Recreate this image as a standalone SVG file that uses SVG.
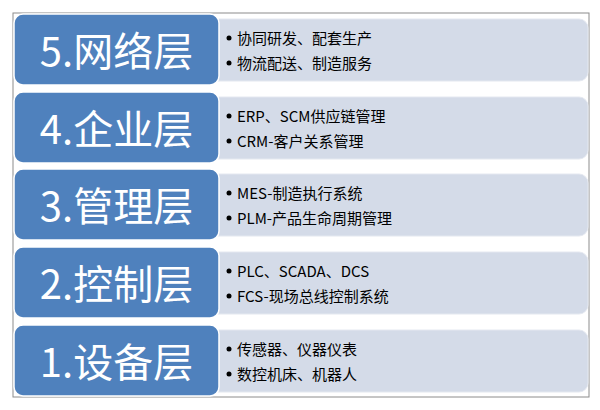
<svg xmlns="http://www.w3.org/2000/svg" width="600" height="410" viewBox="0 0 600 410">
<style>
.frame{fill:#ffffff;stroke:#8c8c8c;stroke-width:1}
.title{fill:#4f81bd;stroke:#ffffff;stroke-width:1.5}
.panel{fill:#d4dbe8;stroke:#e4e8f0;stroke-width:1}
.big{font-family:"Noto Sans CJK SC","Noto Sans",sans-serif;font-size:40px;fill:#ffffff;text-anchor:middle;dominant-baseline:central}
.item{font-family:"Noto Sans CJK SC","Noto Sans",sans-serif;font-size:15px;fill:#000000;dominant-baseline:central}
.dot{fill:#000000}
</style>
<rect class="frame" x="13" y="13" width="576" height="384"/>
<g id="layer5">
<rect class="panel" x="200" y="19" width="388" height="62" rx="9"/>
<rect class="title" x="14" y="14" width="205" height="71" rx="9"/>
<text class="big" x="116.5" y="49">5.网络层</text>
<circle class="dot" cx="229" cy="38" r="2.5"/><text class="item" x="237" y="37">协同研发、配套生产</text>
<circle class="dot" cx="229" cy="63" r="2.5"/><text class="item" x="237" y="62">物流配送、制造服务</text>
</g>
<g id="layer4">
<rect class="panel" x="200" y="97" width="388" height="62" rx="9"/>
<rect class="title" x="14" y="92" width="205" height="71" rx="9"/>
<text class="big" x="116.5" y="127">4.企业层</text>
<circle class="dot" cx="229" cy="116" r="2.5"/><text class="item" x="237" y="115">ERP、SCM供应链管理</text>
<circle class="dot" cx="229" cy="141" r="2.5"/><text class="item" x="237" y="140">CRM-客户关系管理</text>
</g>
<g id="layer3">
<rect class="panel" x="200" y="174" width="388" height="62" rx="9"/>
<rect class="title" x="14" y="169" width="205" height="71" rx="9"/>
<text class="big" x="116.5" y="204">3.管理层</text>
<circle class="dot" cx="229" cy="193" r="2.5"/><text class="item" x="237" y="192">MES-制造执行系统</text>
<circle class="dot" cx="229" cy="218" r="2.5"/><text class="item" x="237" y="217">PLM-产品生命周期管理</text>
</g>
<g id="layer2">
<rect class="panel" x="200" y="252" width="388" height="62" rx="9"/>
<rect class="title" x="14" y="247" width="205" height="71" rx="9"/>
<text class="big" x="116.5" y="282">2.控制层</text>
<circle class="dot" cx="229" cy="271" r="2.5"/><text class="item" x="237" y="270">PLC、SCADA、DCS</text>
<circle class="dot" cx="229" cy="296" r="2.5"/><text class="item" x="237" y="295">FCS-现场总线控制系统</text>
</g>
<g id="layer1">
<rect class="panel" x="200" y="330" width="388" height="62" rx="9"/>
<rect class="title" x="14" y="325" width="205" height="71" rx="9"/>
<text class="big" x="116.5" y="360">1.设备层</text>
<circle class="dot" cx="229" cy="349" r="2.5"/><text class="item" x="237" y="348">传感器、仪器仪表</text>
<circle class="dot" cx="229" cy="374" r="2.5"/><text class="item" x="237" y="373">数控机床、机器人</text>
</g>
<g id="connectors"></g>
</svg>
